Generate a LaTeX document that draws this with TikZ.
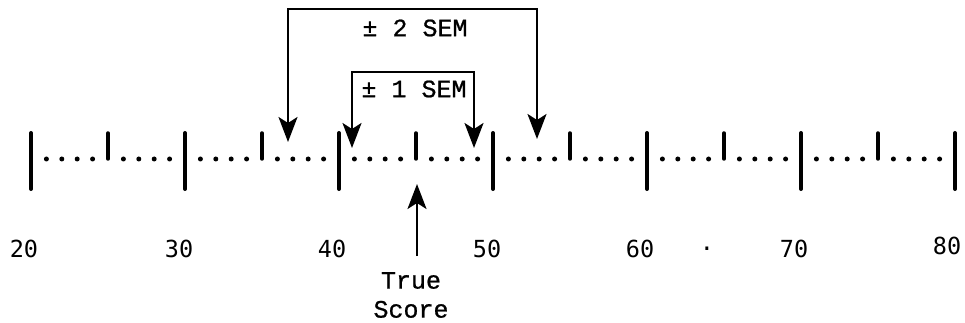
\documentclass[tikz,border=0pt]{standalone}
\usepackage{fontspec}
\setmainfont{Liberation Mono}[FakeBold=0.8]
\newfontfamily\numfont{DejaVu Sans Mono}
\usetikzlibrary{arrows.meta}
\begin{document}
\begin{tikzpicture}[x=1pt,y=-1pt,
  majortick/.style={line width=4pt,line cap=round},
  minortick/.style={line width=3.5pt,line cap=round},
  dotmark/.style={circle,fill=black,inner sep=0pt,minimum size=5pt},
  numlabel/.style={font=\numfont\fontsize{23.5}{26}\selectfont,inner sep=0pt},
  txt/.style={font=\fontsize{25}{29}\selectfont,inner sep=0pt},
  sem/.style={line width=2.3pt,{Stealth[length=25pt,width=19pt,inset=6pt]}-{Stealth[length=25pt,width=19pt,inset=6pt]}},
  arr/.style={line width=2.3pt,-{Stealth[length=25pt,width=19pt,inset=6pt]}}]
\useasboundingbox (0,0) rectangle (965,323);
% ticks and dots
\foreach \i in {0,...,12}{
  \pgfmathsetmacro{\xx}{31+77*\i}
  \coordinate (t\i) at (\xx,159);
  \ifodd\i
    \draw[minortick] (\xx,133) -- (\xx,159);
  \else
    \draw[majortick] (\xx,133) -- (\xx,189);
  \fi
}
\foreach \i in {0,...,11}{
  \foreach \k in {1,...,4}{
    \node[dotmark] (d\i-\k) at ({31+77*\i+15.4*\k},159) {};
  }
}
% number labels
\node[numlabel] (n20) at (24,249) {20};
\node[numlabel] (n30) at (179,249) {30};
\node[numlabel] (n40) at (332,249) {40};
\node[numlabel] (n50) at (487,249) {50};
\node[numlabel] (n60) at (640,249) {60};
\node[numlabel] (ndot) at (707,249) {.};
\node[numlabel] (n70) at (794,249) {70};
\node[numlabel] (n80) at (947,246) {80};
% true score
\node[txt,align=center] (ts) at (411,295) {True\\Score};
\coordinate (tsbot) at (417,256);
\coordinate (tstip) at (417,184);
\draw[arr] (tsbot) -- (tstip);
% 2 SEM bracket
\coordinate (twoL) at (288,142);
\coordinate (twoTop) at (537,9);
\coordinate (twoR) at (537,139);
\draw[sem] (twoL) |- (twoTop) -- (twoR);
\node[txt] (lab2) at (415,28) {± 2 SEM};
% 1 SEM bracket
\coordinate (oneL) at (352,148);
\coordinate (oneTop) at (474,72);
\coordinate (oneR) at (474,148);
\draw[sem] (oneL) |- (oneTop) -- (oneR);
\node[txt] (lab1) at (414,89) {± 1 SEM};
\end{tikzpicture}
\end{document}
